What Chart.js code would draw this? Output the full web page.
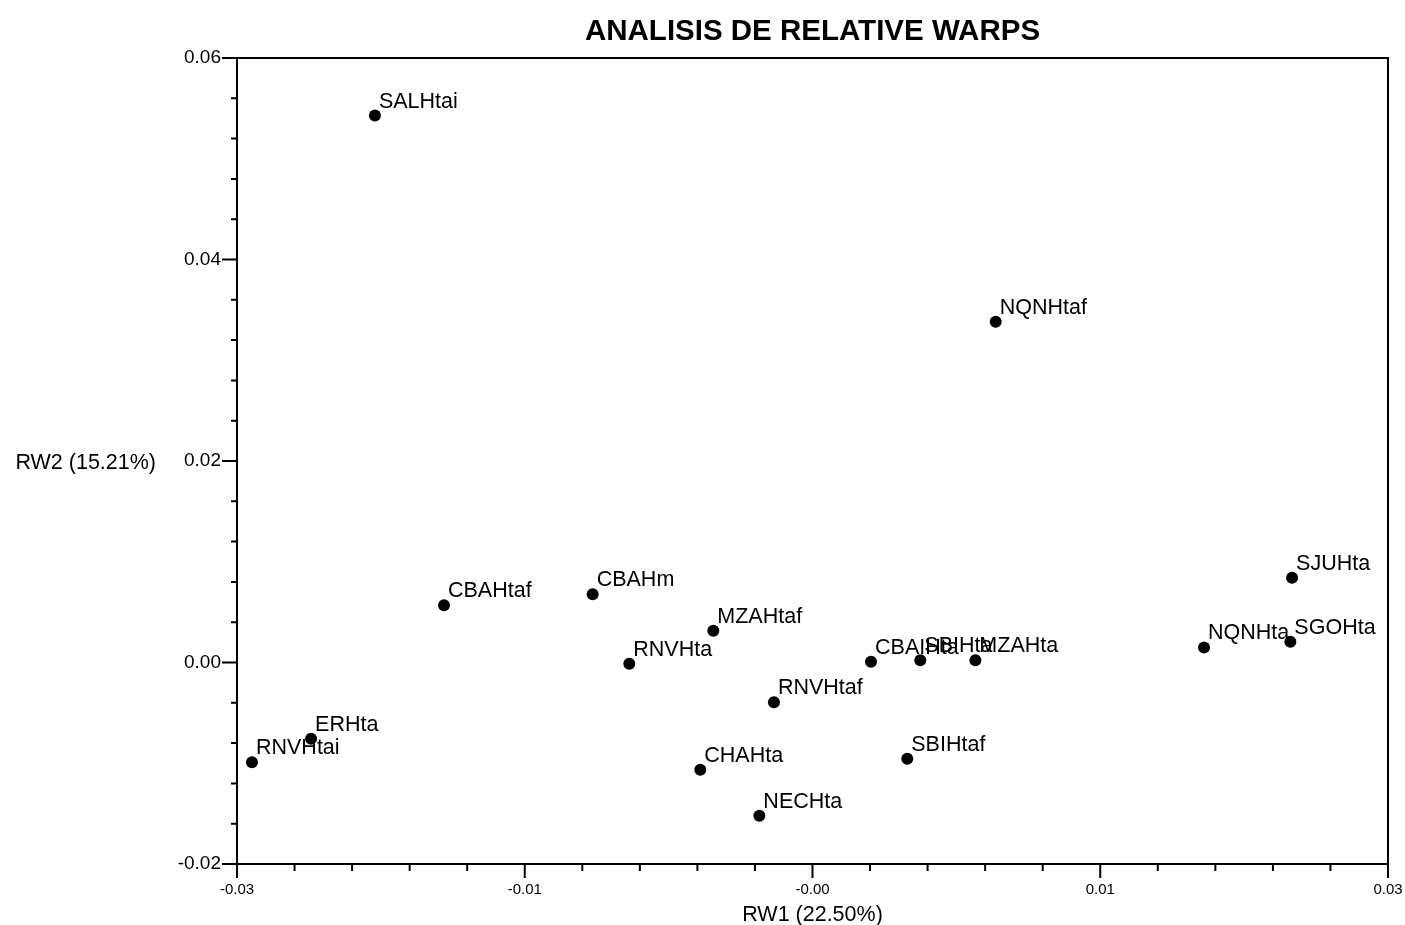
<!DOCTYPE html>
<html>
<head>
<meta charset="utf-8">
<title>ANALISIS DE RELATIVE WARPS</title>
<script src="https://cdn.jsdelivr.net/npm/chart.js@4.4.1/dist/chart.umd.min.js"></script>
<style>
  body { margin: 0; background: #fff; }
  #wrap { width: 1405px; height: 925px; position: relative; }
</style>
</head>
<body>
<div id="wrap"><canvas id="rwChart"></canvas></div>
<script>
// specimen scores on the first two relative warps
let pointNames = ['SALHtai', 'NQNHtaf', 'SJUHta', 'SGOHta', 'NQNHta', 'CBAHtaf', 'CBAHm', 'MZAHtaf', 'RNVHta',
                  'CBAIHta', 'SBIHta', 'MZAHta', 'RNVHtaf', 'SBIHtaf', 'CHAHta', 'NECHta', 'ERHta', 'RNVHtai'];
let rw1 = [-0.02281, 0.00955, 0.02500, 0.02491, 0.02041, -0.01921, -0.01146, -0.00517, -0.00955,
           0.00305, 0.00562, 0.00849, -0.00201, 0.00494, -0.00585, -0.00277, -0.02614, -0.02922];
let rw2 = [0.05429, 0.03382, 0.00841, 0.00205, 0.00149, 0.00569, 0.00678, 0.00315, -0.00013,
           0.00007, 0.00023, 0.00023, -0.00394, -0.00956, -0.01065, -0.01522, -0.00757, -0.00990];

let xTickLabels = ['-0.03', '-0.01', '-0.00', '0.01', '0.03'];
let yTickLabels = ['-0.02', '0.00', '0.02', '0.04', '0.06'];

let points = [];
for (let i = 0; i < pointNames.length; i++) {
    points.push({x: rw1[i], y: rw2[i]});
}

// frame, major/minor tick marks and the horizontal y title
let framePlugin = {
    id: 'frame',
    afterDraw(chart) {
        let ctx = chart.ctx, a = chart.chartArea;
        let xs = chart.scales.x, ys = chart.scales.y;
        ctx.save();
        ctx.strokeStyle = '#000';
        ctx.lineWidth = 2;
        ctx.strokeRect(a.left, a.top, a.right - a.left, a.bottom - a.top);

        ctx.beginPath();
        // x: minor every 0.003, major every 0.015
        for (let i = 0; i <= 20; i++) {
            let px = xs.getPixelForValue(xs.min + i * (xs.max - xs.min) / 20);
            let len = (i % 5 == 0) ? 14 : 7;
            ctx.moveTo(px, a.bottom);
            ctx.lineTo(px, a.bottom + len);
        }
        // y: minor every 0.004, major every 0.02
        for (let i = 0; i <= 20; i++) {
            let py = ys.getPixelForValue(ys.min + i * (ys.max - ys.min) / 20);
            let len = (i % 5 == 0) ? 15 : 6;
            ctx.moveTo(a.left, py);
            ctx.lineTo(a.left - len, py);
        }
        ctx.stroke();

        ctx.fillStyle = '#000';
        ctx.font = '21.5px "Liberation Sans", Arial, sans-serif';
        ctx.textAlign = 'right';
        ctx.textBaseline = 'middle';
        ctx.fillText('RW2 (15.21%)', a.left - 81, (a.top + a.bottom) / 2 + 2);
        ctx.restore();
    }
};

// name next to each point
let pointLabelPlugin = {
    id: 'pointLabels',
    afterDatasetsDraw(chart) {
        let ctx = chart.ctx;
        let meta = chart.getDatasetMeta(0);
        ctx.save();
        ctx.fillStyle = '#000';
        ctx.font = '21.5px "Liberation Sans", Arial, sans-serif';
        ctx.textAlign = 'left';
        ctx.textBaseline = 'alphabetic';
        meta.data.forEach(function(pt, i) {
            ctx.fillText(pointNames[i], pt.x + 4, pt.y - 8);
        });
        ctx.restore();
    }
};

let ctx = document.getElementById('rwChart').getContext('2d');
let rwChart = new Chart(ctx, {
    type: 'scatter',
    data: {
        datasets: [{
            label: 'RW',
            data: points,
            backgroundColor: '#000',
            borderColor: '#000',
            borderWidth: 0,
            pointRadius: 6,
            pointHoverRadius: 6
        }]
    },
    options: {
        responsive: true,
        maintainAspectRatio: false,
        animation: false,
        events: [],
        layout: { padding: { left: 0, right: 17, top: 0, bottom: 0 } },
        plugins: {
            legend: { display: false },
            tooltip: { enabled: false },
            title: {
                display: true,
                fullSize: false,
                text: 'ANALISIS DE RELATIVE WARPS',
                color: '#000',
                font: { family: '"Liberation Sans", Arial, sans-serif', size: 29.5, weight: 'bold' },
                padding: { top: 14, bottom: 8.6 }
            }
        },
        scales: {
            x: {
                type: 'linear',
                min: -0.03,
                max: 0.03,
                grid: { display: false, drawTicks: false },
                border: { display: false },
                ticks: {
                    stepSize: 0.015,
                    padding: 17,
                    color: '#000',
                    maxRotation: 0,
                    font: { family: '"Liberation Sans", Arial, sans-serif', size: 15 },
                    callback: function(value, index) { return xTickLabels[index]; }
                },
                title: {
                    display: true,
                    text: 'RW1 (22.50%)',
                    color: '#000',
                    font: { family: '"Liberation Sans", Arial, sans-serif', size: 21.5 },
                    padding: { top: 0, bottom: -3 }
                },
                afterFit: function(scale) {
                    scale.height = 61;
                    scale.paddingLeft = 0;
                    scale.paddingRight = 0;
                }
            },
            y: {
                type: 'linear',
                min: -0.02,
                max: 0.06,
                grid: { display: false, drawTicks: false },
                border: { display: false },
                ticks: {
                    stepSize: 0.02,
                    padding: 16,
                    color: '#000',
                    font: { family: '"Liberation Sans", Arial, sans-serif', size: 19 },
                    callback: function(value, index) { return yTickLabels[index]; }
                },
                afterFit: function(scale) {
                    scale.width = 237;
                    scale.paddingTop = 0;
                    scale.paddingBottom = 0;
                }
            }
        }
    },
    plugins: [framePlugin, pointLabelPlugin]
});
</script>
</body>
</html>
